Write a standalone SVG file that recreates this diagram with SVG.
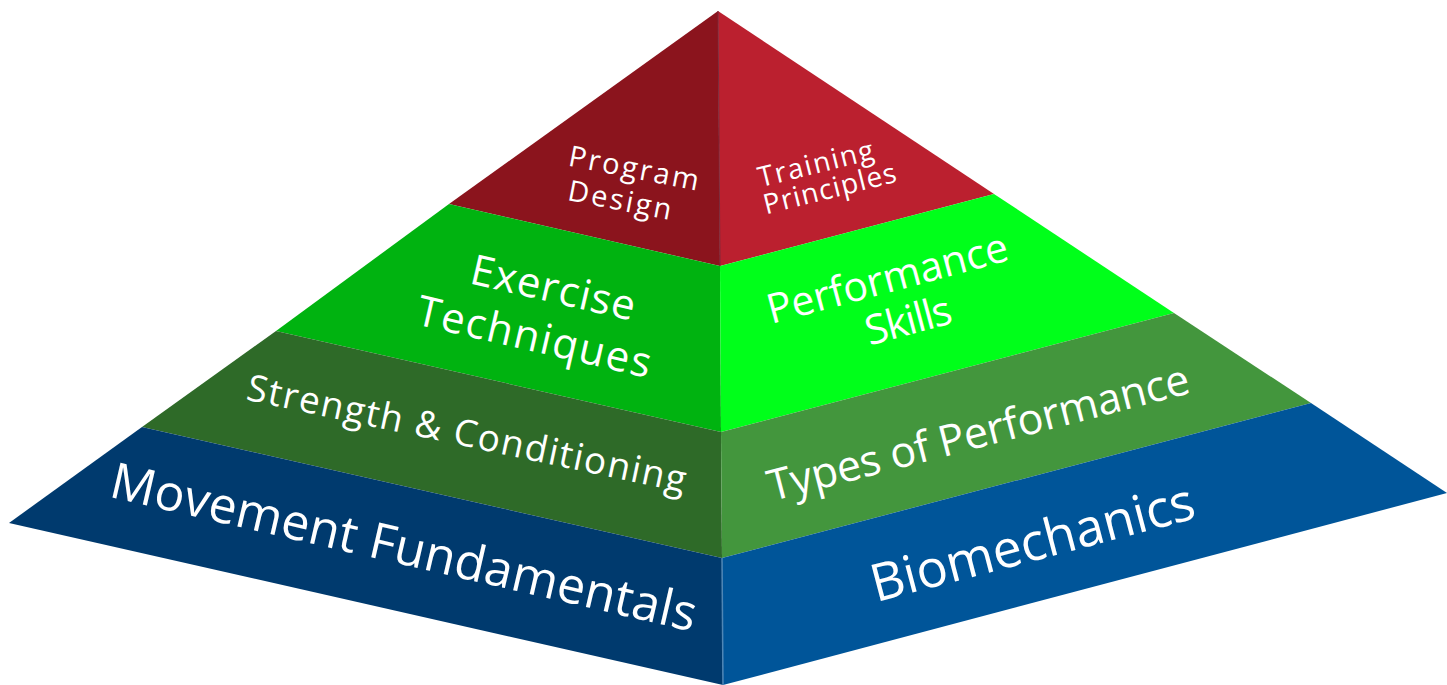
<svg xmlns="http://www.w3.org/2000/svg" width="1447" height="685" viewBox="0 0 1447 685">
<style>
text{font-family:"Open Sans","Noto Sans","Liberation Sans",sans-serif;fill:#ffffff;text-anchor:middle}
</style>
<rect width="1447" height="685" fill="#ffffff"/>
<g id="layer-top">
<polygon points="718,11 449,204 720,266" fill="#8b141d"/>
<polygon points="718,11 994,194 720,266" fill="#bb202f"/>
<text font-size="29" textLength="132" lengthAdjust="spacing" transform="translate(632,178) rotate(11)">Program</text>
<text font-size="29" textLength="105" lengthAdjust="spacing" transform="translate(618,210) rotate(11)">Design</text>
<text font-size="28" textLength="118" lengthAdjust="spacing" transform="translate(818,173) rotate(-14)">Training</text>
<text font-size="28" textLength="136" lengthAdjust="spacing" transform="translate(832,198) rotate(-14)">Principles</text>
</g>
<g id="layer-2">
<polygon points="449,204 720,266 721,432 276,331" fill="#00b310"/>
<polygon points="720,266 994,194 1174,313 721,432" fill="#00ff1a"/>
<text font-size="42" textLength="168" lengthAdjust="spacing" transform="translate(550,302) rotate(13)">Exercise</text>
<text font-size="42" textLength="239" lengthAdjust="spacing" transform="translate(531,351) rotate(13)">Techniques</text>
<text font-size="41" textLength="248" lengthAdjust="spacing" transform="translate(891,292) rotate(-15)">Performance</text>
<text font-size="41" textLength="88" lengthAdjust="spacing" transform="translate(912,334) rotate(-15)">Skills</text>
</g>
<g id="layer-3">
<polygon points="276,331 721,432 722,558 142,427" fill="#2e6a28"/>
<polygon points="721,432 1174,313 1311,403 722,558" fill="#43963d"/>
<text font-size="37" textLength="448" lengthAdjust="spacing" transform="translate(464,446) rotate(12)">Strength &amp; Conditioning</text>
<text font-size="43" textLength="434" lengthAdjust="spacing" transform="translate(982,447) rotate(-14.5)">Types of Performance</text>
</g>
<g id="layer-base">
<polygon points="142,427 722,558 723,685 9,523" fill="#003a6e"/>
<polygon points="722,558 1311,403 1447,493 723,685" fill="#005599"/>
<text font-size="50" textLength="600" lengthAdjust="spacing" transform="translate(400,564) rotate(13)">Movement Fundamentals</text>
<text font-size="52" textLength="333" lengthAdjust="spacing" transform="translate(1037,560) rotate(-14.7)">Biomechanics</text>
</g>
<g id="connectors">
<line x1="718" y1="11" x2="720" y2="266" stroke="#7a2a3a" stroke-width="1"/>
<line x1="722" y1="558" x2="723" y2="685" stroke="#4f86b5" stroke-width="1.5"/>
</g>
</svg>
